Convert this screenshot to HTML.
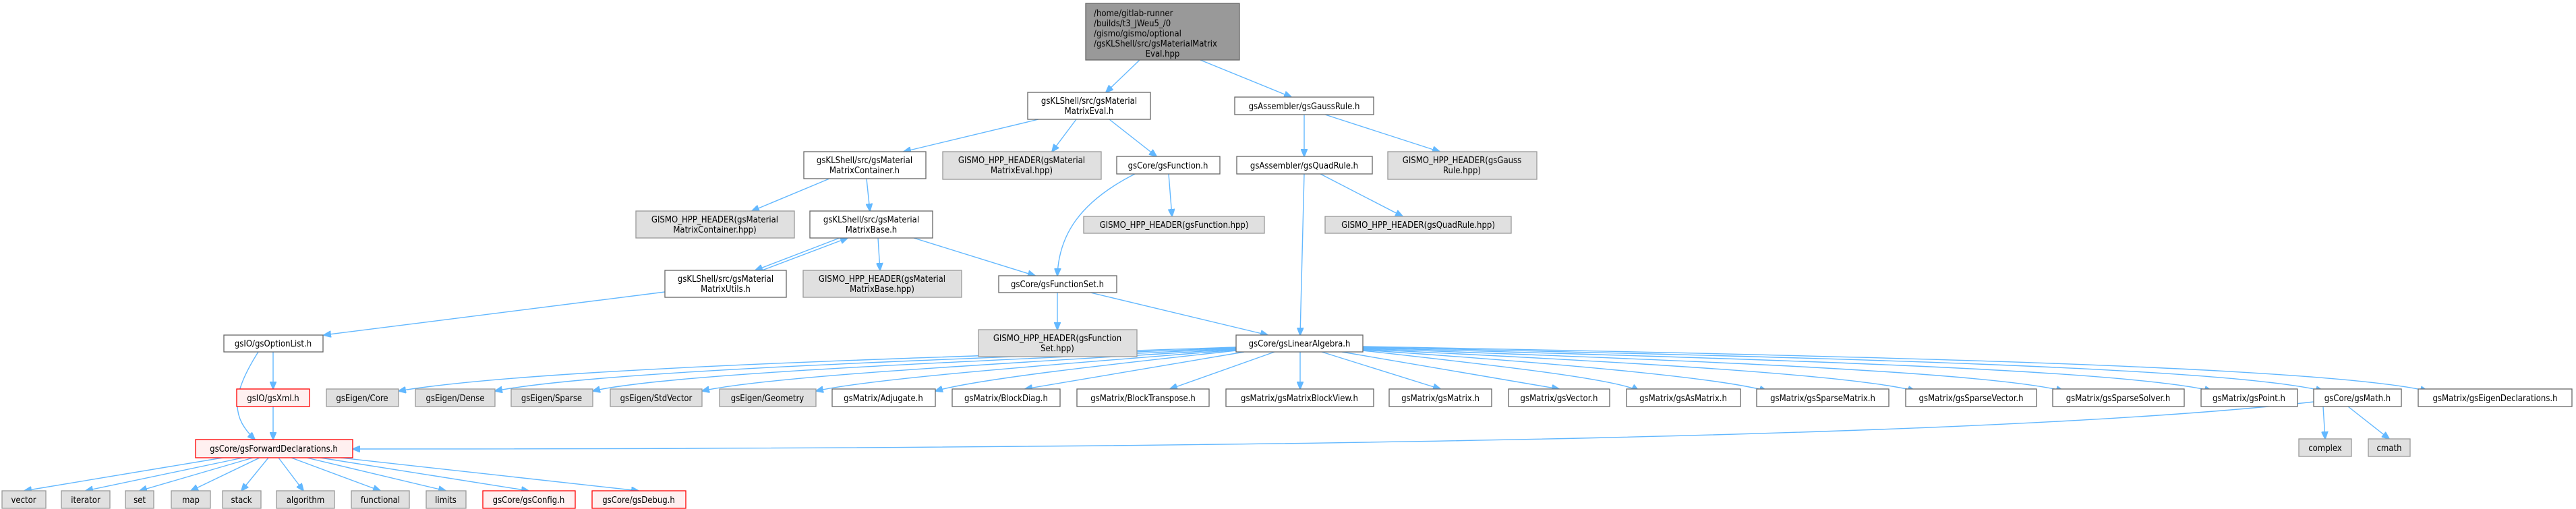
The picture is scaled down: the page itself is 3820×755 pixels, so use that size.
<!DOCTYPE html>
<html><head><meta charset="utf-8"><style>
html,body{margin:0;padding:0;background:#fff;}
svg{display:block}
text{font-family:"DejaVu Sans Condensed","DejaVu Sans","Liberation Sans",sans-serif;font-size:13px;fill:#000;text-anchor:middle}
.w{fill:#fff;stroke:#666;stroke-width:1.3}
.g{fill:#e0e0e0;stroke:#999;stroke-width:1.3}
.r{fill:#fff0f0;stroke:#f00;stroke-width:1.3}
.t{fill:#999;stroke:#666;stroke-width:1.3}
path.e{fill:none;stroke:#63b8ff;stroke-width:1.4;marker-end:url(#a)}
</style></head><body>
<svg width="3820" height="755" viewBox="0 0 3820 755" xmlns="http://www.w3.org/2000/svg">
<defs><marker id="a" markerWidth="12" markerHeight="10" refX="11" refY="5" orient="auto" markerUnits="userSpaceOnUse"><path d="M0,0 L12,5 L0,10 z" fill="#63b8ff" stroke="#63b8ff"/></marker></defs>
<!-- edges -->
<path class="e" d="M1690,89 L1640,137"/>
<path class="e" d="M1780,89 L1915,144"/>
<path class="e" d="M1540,177 L1340,225"/>
<path class="e" d="M1596,177 L1560,225"/>
<path class="e" d="M1645,177 L1715,232"/>
<path class="e" d="M1934,170 L1934,232"/>
<path class="e" d="M1965,170 L2135,225"/>
<path class="e" d="M1230,265 L1115,313"/>
<path class="e" d="M1285,265 L1290,313"/>
<path class="e" d="M1245,353 L1120,401"/>
<path class="e" d="M1130,401 L1257,353"/>
<path class="e" d="M1302,353 L1305,401"/>
<path class="e" d="M1355,353 L1535,409"/>
<path class="e" d="M1683,258 C1600,300 1570,350 1568,409"/>
<path class="e" d="M1733,258 L1738,321"/>
<path class="e" d="M1934,258 L1928,497"/>
<path class="e" d="M1958,258 L2080,321"/>
<path class="e" d="M986,433 L480,497"/>
<path class="e" d="M1568,434 L1568,489"/>
<path class="e" d="M1617,434 L1880,497"/>
<path class="e" d="M405,522 L405,577"/>
<path class="e" d="M383,522 C340,590 345,620 378,652"/>
<path class="e" d="M405,603 L405,652"/>
<!-- LinAlg to row -->
<path class="e" d="M1833,515 C1400,530 800,545 591,580"/>
<path class="e" d="M1833,516 C1450,532 900,548 734,580"/>
<path class="e" d="M1833,517 C1500,534 1000,552 879,580"/>
<path class="e" d="M1833,518 C1550,536 1150,556 1041,580"/>
<path class="e" d="M1833,519 C1600,538 1300,560 1210,580"/>
<path class="e" d="M1833,520 C1650,540 1450,562 1387,580"/>
<path class="e" d="M1845,522 L1520,577"/>
<path class="e" d="M1890,522 L1735,577"/>
<path class="e" d="M1928,522 L1928,577"/>
<path class="e" d="M1960,522 L2136,577"/>
<path class="e" d="M1990,522 L2312,577"/>
<path class="e" d="M2021,520 C2200,540 2400,562 2430,580"/>
<path class="e" d="M2021,519 C2300,538 2550,560 2620,580"/>
<path class="e" d="M2021,518 C2400,536 2750,556 2840,580"/>
<path class="e" d="M2021,517 C2500,534 2950,552 3060,580"/>
<path class="e" d="M2021,516 C2600,532 3150,548 3280,580"/>
<path class="e" d="M2021,515 C2700,530 3300,545 3445,580"/>
<path class="e" d="M2021,514 C2800,528 3450,545 3600,580"/>
<path class="e" d="M3431,596 C3000,645 2000,666 523,666"/>
<path class="e" d="M3445,603 L3448,651"/>
<path class="e" d="M3482,603 L3543,651"/>
<!-- FD to bottom -->
<path class="e" d="M330,679 L36,728"/>
<path class="e" d="M360,679 L127,728"/>
<path class="e" d="M375,679 L207,728"/>
<path class="e" d="M385,679 L283,728"/>
<path class="e" d="M398,679 L358,728"/>
<path class="e" d="M413,679 L450,728"/>
<path class="e" d="M432,679 L564,728"/>
<path class="e" d="M455,679 L661,728"/>
<path class="e" d="M475,679 L784,728"/>
<path class="e" d="M505,679 L947,728"/>
<!-- nodes -->
<rect class="t" x="1610" y="5" width="228" height="84"/>
<text x="1622" y="24" style="text-anchor:start">/home/gitlab-runner</text>
<text x="1622" y="39" style="text-anchor:start">/builds/t3_JWeu5_/0</text>
<text x="1622" y="54" style="text-anchor:start">/gismo/gismo/optional</text>
<text x="1622" y="69" style="text-anchor:start">/gsKLShell/src/gsMaterialMatrix</text>
<text x="1724" y="84">Eval.hpp</text>

<rect class="w" x="1524" y="137" width="182" height="40"/><text x="1615" y="154">gsKLShell/src/gsMaterial</text><text x="1615" y="169">MatrixEval.h</text>
<rect class="w" x="1831" y="144" width="206" height="26"/><text x="1934" y="162">gsAssembler/gsGaussRule.h</text>
<rect class="w" x="1192" y="225" width="181" height="40"/><text x="1282" y="242">gsKLShell/src/gsMaterial</text><text x="1282" y="257">MatrixContainer.h</text>
<rect class="g" x="1398" y="225" width="235" height="41"/><text x="1515" y="242">GISMO_HPP_HEADER(gsMaterial</text><text x="1515" y="257">MatrixEval.hpp)</text>
<rect class="w" x="1656" y="232" width="153" height="26"/><text x="1732" y="250">gsCore/gsFunction.h</text>
<rect class="w" x="1834" y="232" width="201" height="26"/><text x="1934" y="250">gsAssembler/gsQuadRule.h</text>
<rect class="g" x="2058" y="225" width="221" height="41"/><text x="2168" y="242">GISMO_HPP_HEADER(gsGauss</text><text x="2168" y="257">Rule.hpp)</text>
<rect class="g" x="943" y="313" width="235" height="40"/><text x="1060" y="330">GISMO_HPP_HEADER(gsMaterial</text><text x="1060" y="345">MatrixContainer.hpp)</text>
<rect class="w" x="1201" y="313" width="182" height="40"/><text x="1292" y="330">gsKLShell/src/gsMaterial</text><text x="1292" y="345">MatrixBase.h</text>
<rect class="g" x="1607" y="321" width="268" height="25"/><text x="1741" y="338">GISMO_HPP_HEADER(gsFunction.hpp)</text>
<rect class="g" x="1965" y="321" width="276" height="25"/><text x="2103" y="338">GISMO_HPP_HEADER(gsQuadRule.hpp)</text>
<rect class="w" x="986" y="401" width="180" height="40"/><text x="1076" y="418">gsKLShell/src/gsMaterial</text><text x="1076" y="433">MatrixUtils.h</text>
<rect class="g" x="1191" y="401" width="235" height="40"/><text x="1308" y="418">GISMO_HPP_HEADER(gsMaterial</text><text x="1308" y="433">MatrixBase.hpp)</text>
<rect class="w" x="1481" y="409" width="175" height="25"/><text x="1568" y="426">gsCore/gsFunctionSet.h</text>
<rect class="w" x="332" y="497" width="147" height="25"/><text x="405" y="514">gsIO/gsOptionList.h</text>
<rect class="g" x="1451" y="489" width="235" height="40"/><text x="1568" y="506">GISMO_HPP_HEADER(gsFunction</text><text x="1568" y="521">Set.hpp)</text>
<rect class="w" x="1833" y="497" width="188" height="25"/><text x="1927" y="514">gsCore/gsLinearAlgebra.h</text>

<rect class="r" x="351" y="577" width="108" height="26"/><text x="405" y="595">gsIO/gsXml.h</text>
<rect class="g" x="484" y="577" width="107" height="26"/><text x="537" y="595">gsEigen/Core</text>
<rect class="g" x="616" y="577" width="118" height="26"/><text x="675" y="595">gsEigen/Dense</text>
<rect class="g" x="758" y="577" width="121" height="26"/><text x="818" y="595">gsEigen/Sparse</text>
<rect class="g" x="905" y="577" width="136" height="26"/><text x="973" y="595">gsEigen/StdVector</text>
<rect class="g" x="1067" y="577" width="143" height="26"/><text x="1138" y="595">gsEigen/Geometry</text>
<rect class="w" x="1234" y="577" width="153" height="26"/><text x="1310" y="595">gsMatrix/Adjugate.h</text>
<rect class="w" x="1412" y="577" width="160" height="26"/><text x="1492" y="595">gsMatrix/BlockDiag.h</text>
<rect class="w" x="1597" y="577" width="196" height="26"/><text x="1695" y="595">gsMatrix/BlockTranspose.h</text>
<rect class="w" x="1818" y="577" width="219" height="26"/><text x="1927" y="595">gsMatrix/gsMatrixBlockView.h</text>
<rect class="w" x="2060" y="577" width="152" height="26"/><text x="2136" y="595">gsMatrix/gsMatrix.h</text>
<rect class="w" x="2237" y="577" width="150" height="26"/><text x="2312" y="595">gsMatrix/gsVector.h</text>
<rect class="w" x="2412" y="577" width="169" height="26"/><text x="2496" y="595">gsMatrix/gsAsMatrix.h</text>
<rect class="w" x="2605" y="577" width="196" height="26"/><text x="2703" y="595">gsMatrix/gsSparseMatrix.h</text>
<rect class="w" x="2826" y="577" width="194" height="26"/><text x="2923" y="595">gsMatrix/gsSparseVector.h</text>
<rect class="w" x="3044" y="577" width="195" height="26"/><text x="3141" y="595">gsMatrix/gsSparseSolver.h</text>
<rect class="w" x="3264" y="577" width="143" height="26"/><text x="3335" y="595">gsMatrix/gsPoint.h</text>
<rect class="w" x="3431" y="577" width="130" height="26"/><text x="3496" y="595">gsCore/gsMath.h</text>
<rect class="w" x="3586" y="577" width="228" height="26"/><text x="3700" y="595">gsMatrix/gsEigenDeclarations.h</text>

<rect class="r" x="290" y="652" width="233" height="27"/><text x="406" y="670">gsCore/gsForwardDeclarations.h</text>
<rect class="g" x="3409" y="651" width="78" height="26"/><text x="3448" y="669">complex</text>
<rect class="g" x="3512" y="651" width="62" height="26"/><text x="3543" y="669">cmath</text>

<rect class="g" x="3" y="728" width="65" height="26"/><text x="35" y="746">vector</text>
<rect class="g" x="91" y="728" width="72" height="26"/><text x="127" y="746">iterator</text>
<rect class="g" x="186" y="728" width="42" height="26"/><text x="207" y="746">set</text>
<rect class="g" x="254" y="728" width="58" height="26"/><text x="283" y="746">map</text>
<rect class="g" x="330" y="728" width="57" height="26"/><text x="358" y="746">stack</text>
<rect class="g" x="410" y="728" width="86" height="26"/><text x="453" y="746">algorithm</text>
<rect class="g" x="521" y="728" width="86" height="26"/><text x="564" y="746">functional</text>
<rect class="g" x="632" y="728" width="59" height="26"/><text x="661" y="746">limits</text>
<rect class="r" x="716" y="728" width="137" height="26"/><text x="784" y="746">gsCore/gsConfig.h</text>
<rect class="r" x="878" y="728" width="139" height="26"/><text x="947" y="746">gsCore/gsDebug.h</text>
</svg>
</body></html>
